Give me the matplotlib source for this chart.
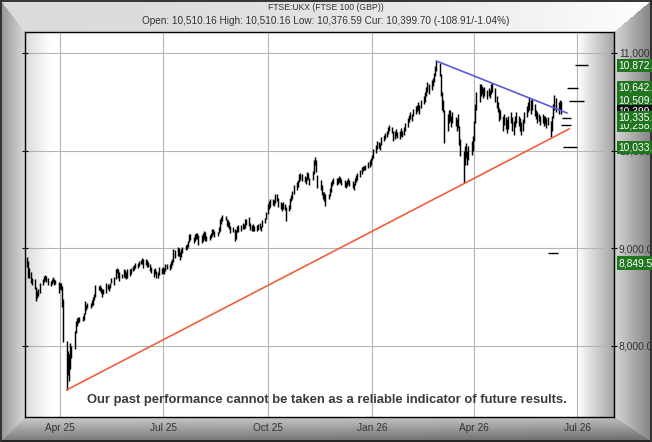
import matplotlib
matplotlib.use('Agg')
import matplotlib.pyplot as plt
import matplotlib.dates as mdates
import matplotlib.transforms as mtransforms
from matplotlib.ticker import FuncFormatter
import numpy as np
import pandas as pd

# daily bar ranges, one entry per weekday starting 3 Mar 2025
first_day = '2025-03-03'
bar_low = [
    8810, 8700, 8700, 8640, 8620, 8580, 8460, 8490, 8510, 8540, 8620, 8660, 8680, 8660, 8620, 8610, 8630, 8660, 8620, 8630, 8540,  # mar 25
    8580, 8570, 8400, 8040, 7545, 7700, 7640, 7760, 7880, 7970, 8130, 8200, 8240, 8250, 8260, 8270, 8330, 8370, 8390, 8390, 8410, 8420,  # apr
    8470, 8500, 8570, 8560, 8540, 8500, 8530, 8540, 8580, 8560, 8590, 8640, 8620, 8690, 8750, 8700, 8670, 8700, 8710, 8700, 8690, 8700,  # may
    8720, 8740, 8770, 8780, 8800, 8800, 8820, 8840, 8840, 8800, 8830, 8810, 8810, 8770, 8750, 8710, 8740, 8700, 8700, 8730, 8740,  # jun
    8750, 8740, 8770, 8790, 8780, 8800, 8830, 8860, 8900, 8920, 8920, 8880, 8910, 8950, 8980, 8990, 9010, 9060, 9090, 9050, 9070, 9100, 9100,  # jul
    9030, 9050, 9080, 9100, 9080, 9070, 9090, 9110, 9130, 9150, 9120, 9130, 9160, 9180, 9250, 9280, 9290, 9230, 9220, 9200, 9160,  # aug
    9170, 9080, 9100, 9170, 9170, 9180, 9200, 9200, 9210, 9240, 9230, 9190, 9180, 9180, 9180, 9180, 9190, 9200, 9180, 9220, 9260, 9300,  # sep
    9350, 9400, 9420, 9440, 9430, 9460, 9480, 9420, 9400, 9380, 9400, 9390, 9280, 9380, 9400, 9480, 9510, 9560, 9600, 9630, 9680, 9700, 9690,  # oct
    9680, 9660, 9700, 9710, 9650, 9700, 9760, 9850, 9780, 9620, 9600, 9550, 9500, 9480, 9430, 9500, 9540, 9580, 9640, 9660,  # nov
    9650, 9660, 9680, 9670, 9650, 9630, 9620, 9640, 9660, 9640, 9620, 9600, 9650, 9680, 9700, 9730, 9760, 9790, 9800, 9800, 9820, 9830, 9850,  # dec
    9900, 9930, 9980, 10020, 10030, 10010, 10060, 10100, 10120, 10140, 10170, 10200, 10180, 10100, 10120, 10150, 10130, 10120, 10150, 10140, 10160, 10200,  # jan 26
    10240, 10290, 10320, 10300, 10350, 10380, 10400, 10420, 10380, 10440, 10480, 10500, 10560, 10600, 10580, 10620, 10660, 10700, 10760, 10820,  # feb
    10760, 10560, 10420, 10400, 10080, 10200, 10280, 10300, 10240, 10280, 10250, 10200, 10230, 10060, 9950, 9670, 9850, 9920, 9850, 9900, 9960, 10000,  # mar
    10100, 10280, 10420, 10500, 10560, 10580, 10540, 10560, 10530, 10560, 10540, 10580, 10600, 10500, 10440, 10400, 10300, 10320, 10200, 10260, 10220, 10180,  # apr
    10220, 10280, 10200, 10160, 10240, 10280, 10250, 10200, 10160, 10200, 10280, 10340, 10400, 10420, 10380, 10420, 10360, 10320, 10280, 10300, 10260,  # may
    10280, 10250, 10270, 10230, 10260, 10140, 10200, 10330, 10420, 10400, 10380, 10420, 10377,  # jun
]
bar_high = [
    8909, 8875, 8800, 8760, 8700, 8690, 8600, 8560, 8580, 8640, 8690, 8720, 8730, 8720, 8700, 8670, 8690, 8710, 8690, 8680, 8660,
    8650, 8640, 8610, 8480, 8050, 7950, 7920, 8030, 8000, 8150, 8260, 8290, 8300, 8300, 8310, 8340, 8460, 8420, 8440, 8440, 8470, 8500,
    8530, 8620, 8610, 8620, 8600, 8580, 8580, 8640, 8630, 8620, 8650, 8700, 8710, 8790, 8800, 8790, 8760, 8740, 8790, 8780, 8760, 8790,
    8790, 8800, 8820, 8830, 8850, 8850, 8870, 8880, 8900, 8890, 8890, 8880, 8860, 8840, 8810, 8790, 8800, 8770, 8760, 8810, 8800,
    8810, 8800, 8840, 8840, 8840, 8870, 8890, 8990, 8980, 9010, 9000, 8960, 8990, 9010, 9030, 9040, 9080, 9150, 9150, 9120, 9150, 9160, 9160,
    9140, 9140, 9160, 9180, 9170, 9130, 9140, 9160, 9200, 9200, 9180, 9170, 9220, 9300, 9320, 9340, 9330, 9300, 9290, 9270, 9230,
    9220, 9200, 9190, 9230, 9240, 9240, 9260, 9250, 9300, 9300, 9320, 9260, 9240, 9250, 9230, 9240, 9250, 9260, 9230, 9290, 9310, 9370,
    9450, 9480, 9500, 9500, 9490, 9560, 9560, 9520, 9470, 9460, 9470, 9450, 9420, 9440, 9520, 9550, 9590, 9650, 9680, 9700, 9760, 9770, 9760,
    9740, 9730, 9780, 9770, 9720, 9790, 9900, 9935, 9900, 9750, 9700, 9650, 9580, 9580, 9560, 9560, 9620, 9680, 9700, 9720,
    9720, 9720, 9740, 9730, 9710, 9700, 9680, 9700, 9720, 9700, 9690, 9670, 9720, 9750, 9770, 9800, 9830, 9840, 9840, 9850, 9880, 9900, 9920,
    9960, 10020, 10060, 10100, 10090, 10080, 10140, 10160, 10180, 10200, 10240, 10260, 10240, 10200, 10200, 10220, 10190, 10200, 10230, 10200, 10240, 10280,
    10330, 10370, 10400, 10380, 10430, 10460, 10470, 10500, 10470, 10520, 10560, 10600, 10650, 10700, 10680, 10720, 10740, 10800, 10870, 10920,
    10900, 10780, 10600, 10520, 10420, 10380, 10420, 10420, 10350, 10400, 10340, 10320, 10380, 10250, 10120, 10000, 10050, 10080, 10000, 10050, 10100, 10150,
    10300, 10480, 10600, 10680, 10680, 10660, 10640, 10650, 10620, 10640, 10620, 10680, 10690, 10640, 10560, 10500, 10440, 10420, 10360, 10380, 10340, 10320,
    10360, 10400, 10340, 10300, 10360, 10400, 10360, 10330, 10290, 10320, 10400, 10460, 10500, 10550, 10520, 10530, 10480, 10420, 10400, 10380, 10360,
    10380, 10350, 10360, 10330, 10340, 10300, 10360, 10480, 10570, 10540, 10500, 10520, 10510,
]

# trend lines (date, level)
support_dates = ['2025-04-07', '2026-06-24']
support_vals = [7551, 10222]
resist_dates = ['2026-02-27', '2026-06-22']
resist_vals = [10918, 10386]

# target markers to the right of the last bar
target_vals = [10872, 10642, 10509, 10335, 10258, 10033, 8955]
target_from = ['2026-06-29', '2026-06-22', '2026-06-24', '2026-06-18', '2026-06-17', '2026-06-19', '2026-06-05']
target_to = ['2026-07-11', '2026-07-02', '2026-07-07', '2026-06-26', '2026-06-26', '2026-07-01', '2026-06-14']

# labels in the right margin (value, text, drawn in this order)
tag_vals = [10872.6, 10642.0, 10509.0, 10399.7, 10258.0, 10335.0, 10033.0, 8849.5]
tag_text = ['10,872.60', '10,642.00', '10,509.00', '10,399.70', '10,258.00', '10,335.00', '10,033.00', '8,849.50']
tag_color = ['#1f761f', '#1f761f', '#1f761f', '#111111', '#1f761f', '#1f761f', '#1f761f', '#1f761f']

month_ticks = ['2025-04-01', '2025-07-01', '2025-10-01', '2026-01-01', '2026-04-01', '2026-07-01']
month_labels = ['Apr 25', 'Jul 25', 'Oct 25', 'Jan 26', 'Apr 26', 'Jul 26']
y_ticks = [8000, 9000, 10000, 11000]

title = 'FTSE:UKX (FTSE 100 (GBP))'
subtitle = 'Open: 10,510.16 High: 10,510.16 Low: 10,376.59 Cur: 10,399.70 (-108.91/-1.04%)'
disclaimer = 'Our past performance cannot be taken as a reliable indicator of future results.'

W, H = 652, 442
fig = plt.figure(figsize=(W / 100, H / 100), dpi=100)

# bevelled grey frame + plot background, built as a pixel image
yy, xx = np.mgrid[0:H, 0:W].astype(float)
band = np.argmin(np.stack([xx / 25.0, yy / 32.0, (W - 1 - xx) / 38.0, (H - 1 - yy) / 25.0]), axis=0)
left = 0.58 + 0.28 * np.clip(xx / 25.0, 0, 1)
top = 0.86 + 0.14 * (xx / W) ** 2
right = 0.84 - 0.32 * np.clip((xx - 614) / 36.0, 0, 1)
bottom = 0.80 - 0.30 * np.clip((yy - 417) / 22.0, 0, 1) - 0.06 * xx / W
shade = np.choose(band, [left, top, right, bottom])
inside = (xx >= 25) & (xx <= 614) & (yy >= 32) & (yy <= 417)
pa = np.ones((H, W))
pa = np.where(xx < 50, 0.86 + 0.14 * np.clip((xx - 25) / 25.0, 0, 1), pa)
pa = np.where(xx > 577, 1 - 0.36 * np.clip((xx - 577) / 37.0, 0, 1), pa)
shade = np.where(inside, pa, shade)
shade[:2, :] = 0.22
shade[-2:, :] = 0.15
shade[:, :2] = 0.2
shade[:, -2:] = 0.2
bg = fig.add_axes([0, 0, 1, 1])
bg.imshow(np.dstack([shade] * 3), aspect='auto', interpolation='nearest')
bg.axis('off')

ax = fig.add_axes([25 / W, 1 - 417 / H, 589 / W, 385 / H])
ax.set_facecolor('none')

dates = pd.bdate_range(first_day, periods=len(bar_low))
ax.vlines(dates, bar_low, bar_high, color='black', lw=1.05)

ax.plot(pd.to_datetime(support_dates), support_vals, color='#f0603e', lw=1.2)
ax.plot(pd.to_datetime(resist_dates), resist_vals, color='#5a5ad4', lw=1.2)
ax.hlines(target_vals, pd.to_datetime(target_from), pd.to_datetime(target_to), color='black', lw=1)

ax.set_xlim(mdates.date2num(pd.Timestamp('2025-03-01 03:00')), mdates.date2num(pd.Timestamp('2026-08-02 14:00')))
ax.set_ylim(7273, 11215)

ax.set_xticks(pd.to_datetime(month_ticks))
ax.set_xticklabels(month_labels, fontsize=7.3, color='#333333', family='Liberation Sans')
ax.tick_params(axis='x', length=0, pad=4)
ax.set_yticks(y_ticks)
ax.yaxis.set_major_formatter(FuncFormatter(lambda v, p: f'{v:,.1f}'))
ax.yaxis.tick_right()
ax.tick_params(axis='y', left=True, right=True, direction='inout', length=4, width=0.8,
               pad=1.5, labelsize=7.4, labelcolor='#333333')
for lbl in ax.get_yticklabels():
    lbl.set_family('Liberation Sans')
ax.grid(color='#b4b4b4', lw=0.8)
ax.set_axisbelow(True)
for s in ax.spines.values():
    s.set_color('black')
    s.set_linewidth(1)

tr = mtransforms.blended_transform_factory(ax.transAxes, ax.transData)
for v, t, c in zip(tag_vals, tag_text, tag_color):
    ax.text(1.008, v, t, transform=tr, ha='left', va='center', fontsize=7.4, color='white',
            family='Liberation Sans', clip_on=False,
            bbox=dict(boxstyle='square,pad=0.15', fc=c, ec='none'))

ax.text(0.513, 0.044, disclaimer, transform=ax.transAxes, ha='center', va='center',
        fontsize=9.4, fontweight='bold', color='#3a3a3a', family='Liberation Sans')

fig.text(0.5, 1 - 7.5 / H, title, ha='center', va='center', fontsize=6.2, color='#333333', family='Liberation Sans')
fig.text(0.5, 1 - 21 / H, subtitle, ha='center', va='center', fontsize=7.2, color='#333333', family='Liberation Sans')

fig.savefig('out.png', dpi=100)
